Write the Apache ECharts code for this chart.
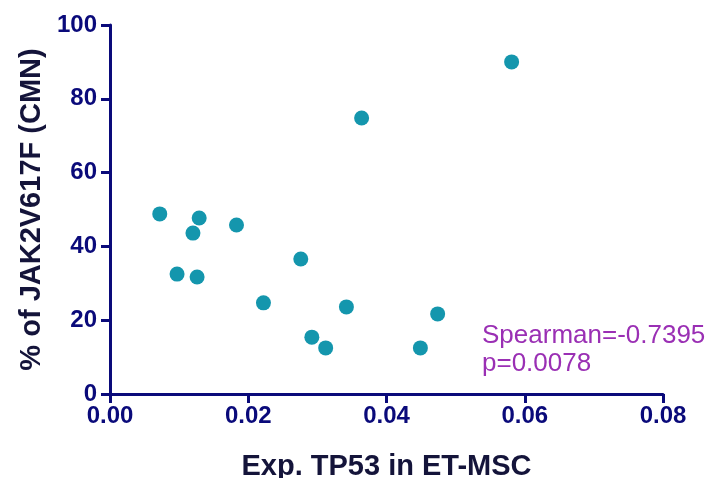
<!DOCTYPE html>
<html>
<head>
    <meta charset="utf-8">
    <title>TP53 vs JAK2V617F</title>
    <style>
        html, body { margin: 0; padding: 0; background: #fff; }
        #chart { width: 709px; height: 478px; }
    </style>
</head>
<body>
    <div id="chart"></div>
    <script src="https://cdn.jsdelivr.net/npm/echarts@6/dist/echarts.min.js"></script>
    <script>
        // TP53 expression in ET-MSC vs % JAK2V617F (CMN)
        var tp53 = [0.0072, 0.0097, 0.0120, 0.0129, 0.0126, 0.0183, 0.0222, 0.0276,
                    0.0292, 0.0312, 0.0342, 0.0364, 0.0449, 0.0474, 0.0581];
        var jak2 = [48.8, 32.5, 43.6, 47.7, 31.7, 45.8, 24.7, 36.6,
                    15.4, 12.5, 23.6, 74.8, 12.5, 21.7, 90.0];
        var statLines = ['Spearman=-0.7395', 'p=0.0078'];

        var points = tp53.map(function (x, i) { return [x, jak2[i]]; });
        var axisColor = '#0a0a7a';
        var fontFam = '"Liberation Sans", Arial, sans-serif';

        var myChart = echarts.init(document.getElementById('chart'));
        var option = {
            animation: false,
            grid: { left: 110, right: 46, top: 25, bottom: 84, containLabel: false, outerBoundsMode: 'none' },
            xAxis: {
                type: 'value',
                min: 0, max: 0.08, interval: 0.02,
                name: 'Exp. TP53 in ET-MSC',
                nameLocation: 'middle',
                nameGap: 58,
                nameTextStyle: { color: '#14143a', fontSize: 29, fontWeight: 'bold', fontFamily: fontFam },
                splitLine: { show: false },
                axisLine: { lineStyle: { color: axisColor, width: 3 } },
                axisTick: { length: 9, lineStyle: { color: axisColor, width: 3 } },
                axisLabel: {
                    color: axisColor, fontSize: 24, fontWeight: 'bold', fontFamily: fontFam, margin: 10,
                    formatter: function (v) { return v.toFixed(2); }
                }
            },
            yAxis: {
                type: 'value',
                min: 0, max: 100, interval: 20,
                name: '% of JAK2V617F (CMN)',
                nameLocation: 'middle',
                nameGap: 64,
                nameTextStyle: { color: '#14143a', fontSize: 29, fontWeight: 'bold', fontFamily: fontFam },
                splitLine: { show: false },
                axisLine: { show: true, lineStyle: { color: axisColor, width: 3 } },
                axisTick: { show: true, length: 9, lineStyle: { color: axisColor, width: 3 } },
                axisLabel: { color: axisColor, fontSize: 24, fontWeight: 'bold', fontFamily: fontFam, margin: 13 }
            },
            series: [{
                type: 'scatter',
                data: points,
                symbol: 'circle',
                symbolSize: 15,
                itemStyle: { color: '#1496ad', opacity: 1 }
            }],
            graphic: [{
                type: 'text',
                left: 482,
                top: 322,
                style: {
                    text: statLines.join('\n'),
                    fill: '#9a2fb4',
                    font: '26px ' + fontFam,
                    lineHeight: 28
                }
            }]
        };
        myChart.setOption(option);
    </script>
</body>
</html>
